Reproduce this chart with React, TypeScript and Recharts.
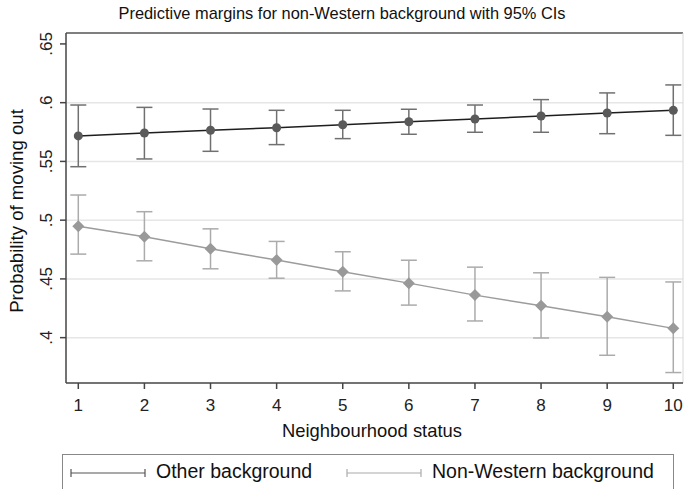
import React from "react";
import {
  ComposedChart,
  Line,
  ErrorBar,
  XAxis,
  YAxis,
  CartesianGrid,
  ReferenceLine,
} from "recharts";

// neighbourhood status 1..10
const statusLevels = [1, 2, 3, 4, 5, 6, 7, 8, 9, 10];

// Other background: margin + 95% CI
const otherMargin = [0.5717, 0.5742, 0.5765, 0.5787, 0.5812, 0.5838, 0.5861, 0.5887, 0.5912, 0.5935];
const otherLo = [0.5455, 0.5521, 0.5586, 0.5643, 0.5694, 0.5731, 0.5748, 0.5748, 0.5736, 0.5722];
const otherHi = [0.598, 0.596, 0.5946, 0.5935, 0.5935, 0.5944, 0.598, 0.6026, 0.6083, 0.6151];

// Non-Western background: margin + 95% CI
const nwMargin = [0.4949, 0.4858, 0.4756, 0.466, 0.456, 0.4464, 0.4362, 0.4271, 0.4178, 0.4079];
const nwLo = [0.4711, 0.4654, 0.4586, 0.4506, 0.4398, 0.4277, 0.4142, 0.3997, 0.385, 0.3703];
const nwHi = [0.5214, 0.5072, 0.4926, 0.4819, 0.4731, 0.4659, 0.46, 0.4552, 0.4513, 0.4474];

const yTicks = [0.4, 0.45, 0.5, 0.55, 0.6, 0.65];
const gridValues = [0.4, 0.45, 0.5, 0.55, 0.6];

const X_DOMAIN: [number, number] = [0.814, 10.147];
const Y_DOMAIN: [number, number] = [0.3614, 0.6593];

const FONT = "'Liberation Sans', Arial, Helvetica, sans-serif";

const data = statusLevels.map((s, i) => ({
  status: s,
  other: otherMargin[i],
  otherErr: [otherMargin[i] - otherLo[i], otherHi[i] - otherMargin[i]],
  nw: nwMargin[i],
  nwErr: [nwMargin[i] - nwLo[i], nwHi[i] - nwMargin[i]],
}));

// ".65" style labels, no leading zero
const fmt = (v: number) => String(v).replace(/^0/, "");

const YTick = (props: any) => {
  const { y, payload } = props;
  const bx = 52;
  return (
    <text
      x={bx}
      y={y}
      transform={`rotate(-90 ${bx} ${y})`}
      textAnchor="middle"
      fontSize={17}
      fill="#222"
      fontFamily={FONT}
    >
      {fmt(payload.value)}
    </text>
  );
};

const CircleDot = (props: any) => {
  const { cx, cy, index } = props;
  if (cx == null || cy == null) return null;
  return <circle key={`o-${index}`} cx={cx} cy={cy} r={4.5} fill="#5a5a5a" />;
};

const DiamondDot = (props: any) => {
  const { cx, cy, index } = props;
  if (cx == null || cy == null) return null;
  const r = 6;
  return (
    <polygon
      key={`d-${index}`}
      points={`${cx},${cy - r} ${cx + r},${cy} ${cx},${cy + r} ${cx - r},${cy}`}
      fill="#999999"
    />
  );
};

function LegendSymbol(props: { color: string }) {
  return (
    <svg width={76} height={10} style={{ display: "block" }}>
      <line x1={1} y1={5} x2={75} y2={5} stroke={props.color} strokeWidth={1.2} />
      <line x1={1} y1={1} x2={1} y2={9} stroke={props.color} strokeWidth={1.2} />
      <line x1={75} y1={1} x2={75} y2={9} stroke={props.color} strokeWidth={1.2} />
    </svg>
  );
}

export default function App() {
  return (
    <div
      style={{
        position: "absolute",
        left: 0,
        top: 0,
        width: 684,
        height: 489,
        background: "#fff",
        overflow: "hidden",
        fontFamily: FONT,
      }}
    >
      <div
        style={{
          position: "absolute",
          left: 0,
          top: 4,
          width: 684,
          textAlign: "center",
          fontSize: 16.4,
          color: "#111",
        }}
      >
        Predictive margins for non-Western background with 95% CIs
      </div>

      <ComposedChart
        width={684}
        height={489}
        data={data}
        margin={{ top: 33, right: 1, bottom: 76, left: 6 }}
      >
        <CartesianGrid
          vertical={false}
          horizontalValues={gridValues}
          stroke="#e6e6e6"
          strokeWidth={1.5}
        />
        <XAxis
          dataKey="status"
          type="number"
          domain={X_DOMAIN}
          ticks={statusLevels}
          allowDataOverflow
          tickSize={6}
          tickMargin={10}
          stroke="#444"
          strokeWidth={1.5}
          tick={{ fontSize: 17, fill: "#222", fontFamily: FONT }}
          height={30}
        />
        <YAxis
          type="number"
          domain={Y_DOMAIN}
          ticks={yTicks}
          allowDataOverflow
          width={60}
          tickSize={6}
          stroke="#444"
          strokeWidth={1.5}
          tick={<YTick />}
        />
        <ReferenceLine y={Y_DOMAIN[1]} stroke="#555" strokeWidth={1.5} />
        <ReferenceLine x={X_DOMAIN[1]} stroke="#d8d8d8" strokeWidth={1} />

        <Line
          dataKey="other"
          type="linear"
          stroke="#1e1e1e"
          strokeWidth={1.5}
          dot={CircleDot}
          activeDot={false}
          isAnimationActive={false}
        >
          <ErrorBar
            dataKey="otherErr"
            direction="y"
            width={8}
            stroke="#707070"
            strokeWidth={1.5}
            isAnimationActive={false}
          />
        </Line>
        <Line
          dataKey="nw"
          type="linear"
          stroke="#9c9c9c"
          strokeWidth={1.5}
          dot={DiamondDot}
          activeDot={false}
          isAnimationActive={false}
        >
          <ErrorBar
            dataKey="nwErr"
            direction="y"
            width={8}
            stroke="#ababab"
            strokeWidth={1.5}
            isAnimationActive={false}
          />
        </Line>
      </ComposedChart>

      {/* y axis title */}
      <svg
        width={40}
        height={489}
        style={{ position: "absolute", left: 0, top: 0, pointerEvents: "none" }}
      >
        <text
          x={23}
          y={211}
          transform="rotate(-90 23 211)"
          textAnchor="middle"
          fontSize={18.6}
          fill="#111"
          fontFamily={FONT}
        >
          Probability of moving out
        </text>
      </svg>

      {/* x axis title */}
      <div
        style={{
          position: "absolute",
          left: 66,
          top: 420,
          width: 612,
          textAlign: "center",
          fontSize: 18.4,
          color: "#111",
        }}
      >
        Neighbourhood status
      </div>

      {/* legend */}
      <div
        style={{
          position: "absolute",
          left: 62,
          top: 454,
          width: 612,
          height: 50,
          border: "1px solid #888",
          boxSizing: "border-box",
        }}
      >
        <div style={{ position: "absolute", left: 7, top: 13 }}>
          <LegendSymbol color="#555" />
        </div>
        <div style={{ position: "absolute", left: 93, top: 5, fontSize: 19.5, color: "#111" }}>
          Other background
        </div>
        <div style={{ position: "absolute", left: 283, top: 13 }}>
          <LegendSymbol color="#aaa" />
        </div>
        <div style={{ position: "absolute", left: 369, top: 5, fontSize: 19.5, color: "#111" }}>
          Non-Western background
        </div>
      </div>
    </div>
  );
}
